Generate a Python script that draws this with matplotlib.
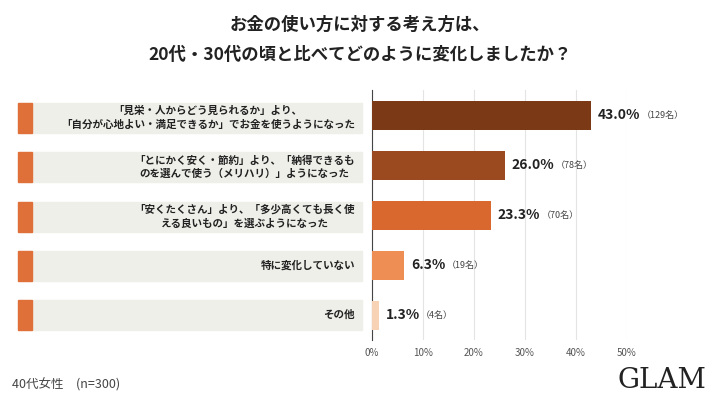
import matplotlib
matplotlib.use("Agg")
import matplotlib.pyplot as plt
from matplotlib.patches import Rectangle

plt.rcParams['font.family'] = ['Noto Sans CJK JP', 'DejaVu Sans']

labels = ["「見栄・人からどう見られるか」より、\n「自分が心地よい・満足できるか」でお金を使うようになった",
          "「とにかく安く・節約」より、「納得できるも\nのを選んで使う（メリハリ）」ようになった",
          "「安くたくさん」より、「多少高くても長く使\nえる良いもの」を選ぶようになった",
          "特に変化していない",
          "その他"]
values = [43.0, 26.0, 23.3, 6.3, 1.3]
counts = [129, 78, 70, 19, 4]
colors = ["#7b3915", "#9b4a1f", "#d9682f", "#ee8e55", "#f8d2b4"]
ticks = [0, 10, 20, 30, 40, 50]

fig = plt.figure(figsize=(7.2, 4.05), dpi=100)
fig.patch.set_facecolor("white")
ax = fig.add_axes([372/720, 1-340/405, 255/720, 250/405])
y = list(range(len(values)))
ax.barh(y, values, height=0.58, color=colors, zorder=3)
ax.set_xlim(0, 50)
ax.set_ylim(len(values)-0.5, -0.5)
ax.set_xticks(ticks)
ax.set_xticklabels([f"{t}%" for t in ticks], fontsize=7, color="#555555")
ax.set_yticks([])
ax.grid(axis='x', color="#e4e4e4", lw=0.8, zorder=0)
for s in ["top", "right", "bottom"]:
    ax.spines[s].set_visible(False)
ax.spines["left"].set_color("#444444")
ax.tick_params(axis='x', length=0, pad=6)
for i, (v, c) in enumerate(zip(values, counts)):
    t = ax.annotate(f"{v:.1f}%", (v, i), xytext=(5, 0), textcoords="offset points",
                    va="center", ha="left", fontsize=10, fontweight="bold", color="#222222")
    ax.annotate(f"（{c}名）", xy=(1, 0.5), xycoords=t, xytext=(1, 0), textcoords="offset points",
                va="center", ha="left", fontsize=6.5, color="#444444")

for i, lab in enumerate(labels):
    yc = 118 + i * 49.3
    h = 30
    fig.patches.append(Rectangle((32/720, 1-(yc+h/2)/405), 330/720, h/405,
                                 transform=fig.transFigure, color="#efefea", zorder=0))
    fig.patches.append(Rectangle((18/720, 1-(yc+h/2)/405), 14/720, h/405,
                                 transform=fig.transFigure, color="#e0703a", zorder=1))
    fig.text(355/720, 1-yc/405, lab, ha="right", va="center", fontsize=7.6,
             fontweight="bold", color="#222222", linespacing=1.45, multialignment="center")

fig.text(0.5, 1-25/405, "お金の使い方に対する考え方は、", ha="center", va="center",
         fontsize=12.5, fontweight="bold", color="#222222")
fig.text(0.5, 1-55/405, "20代・30代の頃と比べてどのように変化しましたか？", ha="center", va="center",
         fontsize=12.5, fontweight="bold", color="#222222")
fig.text(12/720, 1-385/405, "40代女性　(n=300)", ha="left", va="center", fontsize=9, color="#444444")
fig.text(706/720, 1-381/405, "GLAM", ha="right", va="center", fontsize=20,
         family="DejaVu Serif", color="#222222")
fig.savefig("out.png", dpi=100)
